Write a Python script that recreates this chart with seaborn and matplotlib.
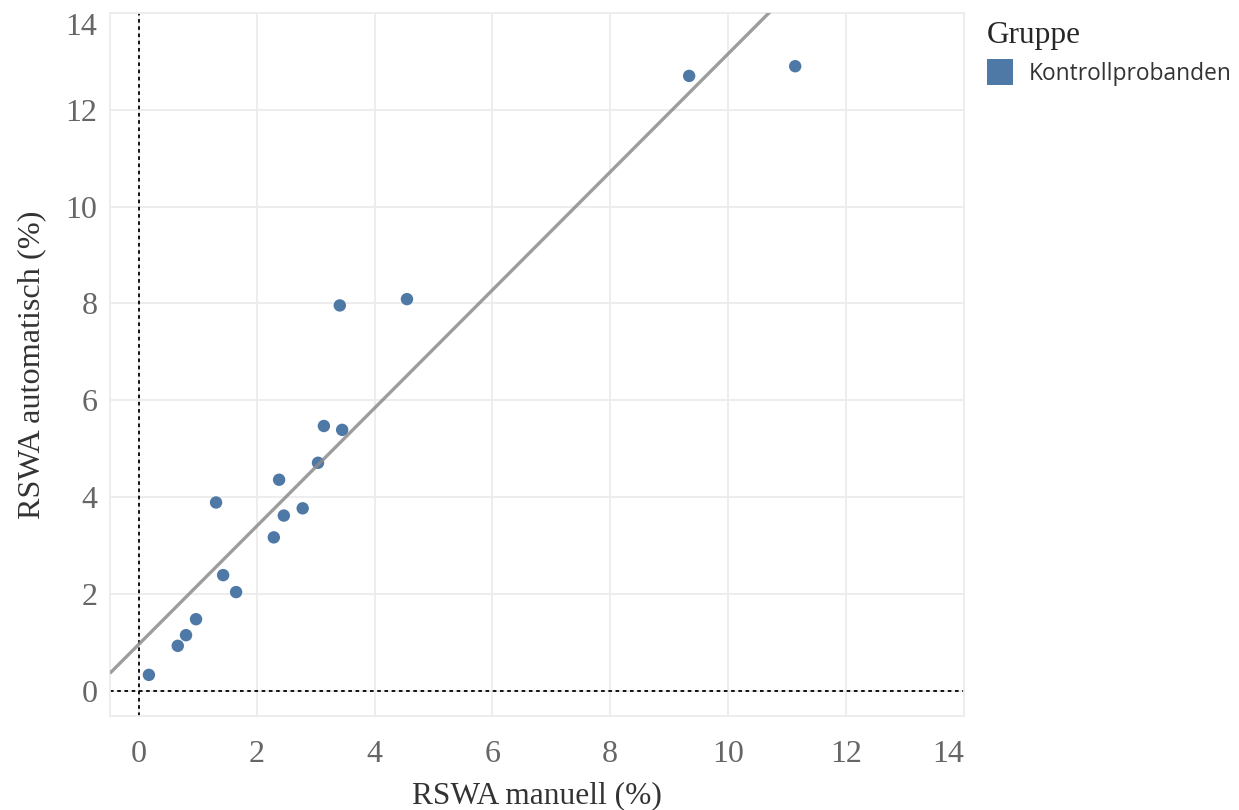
import numpy as np
import pandas as pd
import matplotlib
matplotlib.use("Agg")
import matplotlib.pyplot as plt
import seaborn as sns

# RSWA values (%) per control subject: manual vs. automatic scoring
manuell = [0.17, 0.66, 0.80, 0.97, 1.31, 1.43, 1.65, 2.29, 2.38, 2.46,
           2.78, 3.04, 3.14, 3.41, 3.45, 4.55, 9.34, 11.14]
automatisch = [0.33, 0.93, 1.15, 1.48, 3.89, 2.39, 2.04, 3.17, 4.36, 3.62,
               3.77, 4.71, 5.47, 7.96, 5.39, 8.09, 12.70, 12.90]
gruppe = ["Kontrollprobanden"] * len(manuell)

ticks = [0, 2, 4, 6, 8, 10, 12, 14]

df = pd.DataFrame({"RSWA manuell (%)": manuell,
                   "RSWA automatisch (%)": automatisch,
                   "Gruppe": gruppe})

sns.set_theme(style="white")
plt.rcParams["font.family"] = ["Liberation Serif", "DejaVu Serif"]

blue = "#4e79a7"
grid_c = "#ececec"

fig = plt.figure(figsize=(12.39, 8.10), dpi=100)
ax = fig.add_axes([0.0888, 0.116, 0.689, 0.868])

xlim = (-0.49, 14.0)
ylim = (-0.52, 14.0)
ax.set_xlim(*xlim)
ax.set_ylim(*ylim)

ax.set_xticks(ticks)
ax.set_yticks(ticks)
ax.grid(True, color=grid_c, linewidth=1.3)
ax.set_axisbelow(True)
for sp in ax.spines.values():
    sp.set_color(grid_c)
    sp.set_linewidth(1.3)
ax.tick_params(axis="both", which="both", length=7, width=1.3, color=grid_c,
               labelsize=23, labelcolor="#666666", pad=2)
ax.tick_params(axis="x", pad=10)

# zero reference lines
ax.axvline(0, color="black", linestyle=(0, (2, 2)), linewidth=1.3, zorder=2)
ax.axhline(0, color="black", linestyle=(0, (2, 2)), linewidth=1.3, zorder=2)

sns.scatterplot(data=df, x="RSWA manuell (%)", y="RSWA automatisch (%)",
                hue="Gruppe", palette=[blue], s=80, linewidth=0,
                ax=ax, zorder=3, legend=False)

# least-squares trend line across the full x range
slope, intercept = np.polyfit(manuell, automatisch, 1)
xs = np.array(xlim)
ax.plot(xs, intercept + slope * xs, color="#8c8c8c", linewidth=2.4,
        alpha=0.85, zorder=4, solid_capstyle="butt")

ax.set_xlabel("RSWA manuell (%)", fontsize=22.6, color="#333333", labelpad=9)
ax.set_ylabel("RSWA automatisch (%)", fontsize=23.2, color="#333333", labelpad=14)

# keep the outermost tick labels inside the plot box
fig.canvas.draw()
xl = ax.get_xticklabels()
xl[-1].set_horizontalalignment("right")
yl = ax.get_yticklabels()
yl[-1].set_verticalalignment("top")

# legend
handle = plt.Line2D([], [], marker="s", linestyle="", markersize=19,
                    markerfacecolor=blue, markeredgewidth=0)
leg = fig.legend([handle], ["Kontrollprobanden"], title="Gruppe",
                 loc="upper left", bbox_to_anchor=(0.789, 0.985),
                 frameon=False, handletextpad=0.65, borderaxespad=0,
                 handlelength=1.2,
                 prop={"family": ["Open Sans", "DejaVu Sans"], "size": 16.4},
                 title_fontproperties={"family": "Liberation Serif", "size": 22.5})
leg._legend_box.align = "left"
for t in leg.get_texts():
    t.set_color("#333333")

fig.savefig("out.png", dpi=100)
